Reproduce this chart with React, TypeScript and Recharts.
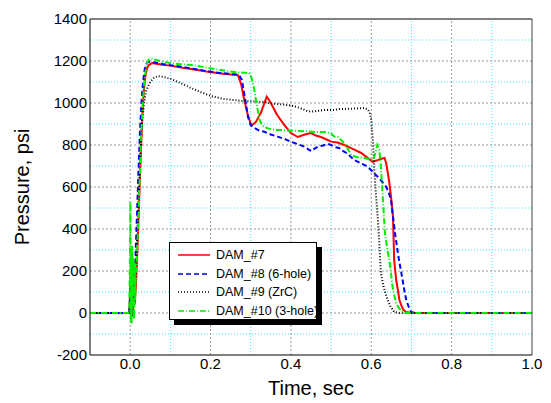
import { Label, Legend, Line, LineChart, ReferenceLine, XAxis, YAxis } from 'recharts'

const FONT = '"Liberation Sans", Arial, sans-serif'

const xTicks = [0, 0.2, 0.4, 0.6, 0.8, 1.0]
const yTicks = [-200, 0, 200, 400, 600, 800, 1000, 1200, 1400]
const xMajorGrid = [0, 0.2, 0.4, 0.6, 0.8]
const xMinorGrid = [0.1, 0.3, 0.5, 0.7, 0.9]
const yMajorGrid = [0, 200, 400, 600, 800, 1000, 1200]
const yMinorGrid = [-100, 100, 300, 500, 700, 900, 1100, 1300]

// DAM_#7
const dam7Time = [
  -0.1, -0.002, 0.001, 0.003, 0.005, 0.007, 0.009, 0.011, 0.014, 0.018, 0.022, 0.026, 0.03, 0.034,
  0.038, 0.042, 0.046, 0.05, 0.055, 0.065, 0.08, 0.1, 0.13, 0.16, 0.19, 0.22, 0.25, 0.268, 0.276,
  0.284, 0.292, 0.301, 0.307, 0.313, 0.32, 0.326, 0.333, 0.34, 0.347, 0.355, 0.365, 0.38, 0.39, 0.4,
  0.417, 0.435, 0.45, 0.462, 0.475, 0.49, 0.5, 0.516, 0.533, 0.55, 0.575, 0.59, 0.604, 0.616, 0.625,
  0.633, 0.637, 0.641, 0.645, 0.65, 0.654, 0.657, 0.662, 0.667, 0.67, 0.675, 0.68, 0.687, 0.7, 0.8, 1.0,
]
const dam7Psi = [
  0, 0, 180, 20, 290, -10, 210, 40, 120, 300, 520, 740, 930, 1060, 1130, 1165, 1180, 1185, 1190,
  1187, 1182, 1178, 1168, 1160, 1150, 1142, 1136, 1133, 1090, 1014, 950, 895, 900, 910, 935, 957, 995,
  1030, 1010, 982, 945, 904, 880, 857, 838, 850, 857, 845, 838, 825, 816, 812, 800, 785, 762, 740, 720,
  728, 735, 738, 714, 670, 619, 540, 459, 252, 157, 100, 62, 35, 15, 5, 0, 0, 0,
]

// DAM_#8 (6-hole)
const dam8Time = [
  -0.1, -0.002, 0.001, 0.003, 0.005, 0.007, 0.009, 0.012, 0.016, 0.02, 0.024, 0.028, 0.032, 0.036,
  0.04, 0.044, 0.048, 0.055, 0.065, 0.08, 0.1, 0.13, 0.16, 0.19, 0.22, 0.25, 0.27, 0.278, 0.286, 0.293,
  0.3, 0.31, 0.322, 0.334, 0.35, 0.367, 0.385, 0.4, 0.417, 0.434, 0.446, 0.452, 0.458, 0.467, 0.48,
  0.492, 0.5, 0.51, 0.52, 0.525, 0.54, 0.558, 0.575, 0.591, 0.605, 0.616, 0.627, 0.637, 0.644, 0.649,
  0.654, 0.659, 0.664, 0.669, 0.674, 0.678, 0.683, 0.687, 0.693, 0.699, 0.71, 0.8, 1.0,
]
const dam8Psi = [
  0, 0, 120, -20, 250, 30, 150, 200, 420, 640, 850, 1000, 1100, 1160, 1185, 1195, 1197, 1195, 1192,
  1186, 1180, 1172, 1162, 1152, 1144, 1138, 1135, 1110, 1020, 935, 895, 880, 868, 863, 850, 840, 828,
  816, 804, 792, 776, 771, 782, 792, 798, 805, 800, 790, 786, 776, 760, 728, 712, 697, 670, 649, 625,
  601, 570, 538, 460, 381, 315, 252, 200, 157, 100, 62, 30, 5, 0, 0, 0,
]

// DAM_#9 (ZrC)
const dam9Time = [
  -0.1, -0.002, 0.001, 0.004, 0.007, 0.01, 0.015, 0.02, 0.025, 0.03, 0.035, 0.04, 0.05, 0.06, 0.07,
  0.08, 0.102, 0.125, 0.152, 0.175, 0.201, 0.234, 0.276, 0.301, 0.334, 0.351, 0.375, 0.4, 0.42, 0.442,
  0.45, 0.465, 0.483, 0.508, 0.52, 0.55, 0.583, 0.591, 0.596, 0.6, 0.604, 0.607, 0.611, 0.616, 0.62,
  0.624, 0.63, 0.636, 0.641, 0.648, 0.657, 0.67, 0.8, 1.0,
]
const dam9Psi = [
  0, 0, 100, -20, 150, 50, 250, 500, 750, 920, 1010, 1060, 1100, 1122, 1128, 1125, 1114, 1095, 1071,
  1052, 1033, 1019, 1010, 1008, 1005, 998, 994, 988, 978, 961, 959, 962, 967, 967, 971, 973, 976, 970,
  955, 919, 820, 695, 580, 459, 330, 190, 130, 90, 62, 30, 5, 0, 0, 0,
]

// DAM_#10 (3-hole)
const dam10Time = [
  -0.1, -0.002, 0.0005, 0.0015, 0.0025, 0.0035, 0.005, 0.0065, 0.008, 0.0095, 0.011, 0.0125, 0.014,
  0.016, 0.019, 0.023, 0.027, 0.031, 0.035, 0.039, 0.043, 0.047, 0.051, 0.056, 0.065, 0.08, 0.1, 0.125,
  0.152, 0.18, 0.21, 0.24, 0.268, 0.285, 0.296, 0.302, 0.309, 0.315, 0.322, 0.328, 0.334, 0.345, 0.36,
  0.376, 0.395, 0.417, 0.44, 0.46, 0.483, 0.5, 0.508, 0.517, 0.533, 0.542, 0.55, 0.565, 0.583, 0.595,
  0.604, 0.61, 0.615, 0.62, 0.624, 0.629, 0.634, 0.64, 0.645, 0.649, 0.653, 0.657, 0.662, 0.668, 0.678,
  0.69, 0.8, 1.0,
]
const dam10Psi = [
  0, 0, 530, -40, 280, -50, 320, 20, 260, -30, 240, 60, 180, 250, 380, 600, 820, 990, 1100, 1160, 1195,
  1208, 1212, 1210, 1205, 1197, 1190, 1185, 1181, 1172, 1162, 1152, 1146, 1144, 1143, 1120, 1062, 990,
  919, 895, 886, 878, 872, 871, 868, 867, 865, 862, 862, 855, 840, 838, 809, 780, 752, 742, 738, 732,
  728, 760, 800, 776, 697, 538, 381, 300, 252, 190, 125, 85, 48, 25, 5, 0, 0, 0,
]

const toPoints = (t: number[], p: number[]) => t.map((v, i) => ({ t: v, p: p[i] }))

const series = [
  { name: 'DAM_#7', color: '#ff0000', dash: undefined, data: toPoints(dam7Time, dam7Psi) },
  { name: 'DAM_#8 (6-hole)', color: '#0000ff', dash: '5 3', data: toPoints(dam8Time, dam8Psi) },
  { name: 'DAM_#9 (ZrC)', color: '#000000', dash: '1 2', data: toPoints(dam9Time, dam9Psi) },
  { name: 'DAM_#10 (3-hole)', color: '#00ee00', dash: '6 2 1 2', data: toPoints(dam10Time, dam10Psi) },
]

function LegendBox() {
  return (
    <div
      style={{
        width: 148,
        height: 78,
        boxSizing: 'border-box',
        border: '1px solid #000',
        background: '#fff',
        boxShadow: '5px 5px 0 #000',
        padding: '3px 0 0 8px',
        fontFamily: FONT,
        fontSize: 12.5,
        color: '#000',
        overflow: 'hidden',
      }}
    >
      {series.map((s) => (
        <div key={s.name} style={{ display: 'flex', alignItems: 'center', height: 18.5 }}>
          <svg width={32} height={6} style={{ marginRight: 6, flexShrink: 0 }}>
            <line x1={0} y1={3} x2={32} y2={3} stroke={s.color} strokeWidth={1.5} strokeDasharray={s.dash} />
          </svg>
          <span style={{ whiteSpace: 'nowrap' }}>{s.name}</span>
        </div>
      ))}
    </div>
  )
}

export default function App() {
  return (
    <div style={{ position: 'absolute', left: 0, top: 0, background: '#fff' }}>
      <LineChart width={551} height={403} margin={{ top: 19, right: 19, bottom: 0, left: 0 }}>
        <XAxis
          type="number"
          dataKey="t"
          domain={[-0.1, 1.0]}
          ticks={xTicks}
          allowDataOverflow
          tickFormatter={(v: number) => v.toFixed(1)}
          height={48}
          stroke="#000"
          tickLine={false}
          tickSize={0}
          tickMargin={3}
          tick={{ fill: '#000', fontSize: 15, fontFamily: FONT }}
        >
          <Label
            content={() => (
              <text x={311} y={395} textAnchor="middle" fontSize={20} fontFamily={FONT} fill="#000">
                Time, sec
              </text>
            )}
          />
        </XAxis>
        <YAxis
          type="number"
          dataKey="p"
          domain={[-200, 1400]}
          ticks={yTicks}
          allowDataOverflow
          width={90}
          stroke="#000"
          tickLine={false}
          tickSize={0}
          tickMargin={3}
          tick={{ fill: '#000', fontSize: 15, fontFamily: FONT }}
        >
          <Label
            content={() => (
              <text
                x={29}
                y={187}
                transform="rotate(-90 29 187)"
                textAnchor="middle"
                fontSize={20}
                fontFamily={FONT}
                fill="#000"
              >
                Pressure, psi
              </text>
            )}
          />
        </YAxis>
        {yMinorGrid.map((v) => (
          <ReferenceLine key={'ym' + v} y={v} stroke="#33e6ff" strokeDasharray="1 2" />
        ))}
        {xMinorGrid.map((v) => (
          <ReferenceLine key={'xm' + v} x={v} stroke="#33e6ff" strokeDasharray="1 2" />
        ))}
        {yMajorGrid.map((v) => (
          <ReferenceLine key={'yg' + v} y={v} stroke="#999" strokeDasharray="2 2" />
        ))}
        {xMajorGrid.map((v) => (
          <ReferenceLine key={'xg' + v} x={v} stroke="#999" strokeDasharray="2 2" />
        ))}
        <ReferenceLine y={1400} stroke="#000" />
        <ReferenceLine x={1.0} stroke="#444" />
        {series.map((s) => (
          <Line
            key={s.name}
            data={s.data}
            dataKey="p"
            name={s.name}
            type="linear"
            stroke={s.color}
            strokeWidth={2}
            strokeDasharray={s.dash}
            dot={false}
            isAnimationActive={false}
          />
        ))}
        <Legend
          layout="horizontal"
          align="center"
          verticalAlign="middle"
          content={() => <LegendBox />}
          wrapperStyle={{ position: 'absolute', left: 169, top: 242, width: 148, height: 78 }}
        />
      </LineChart>
    </div>
  )
}
